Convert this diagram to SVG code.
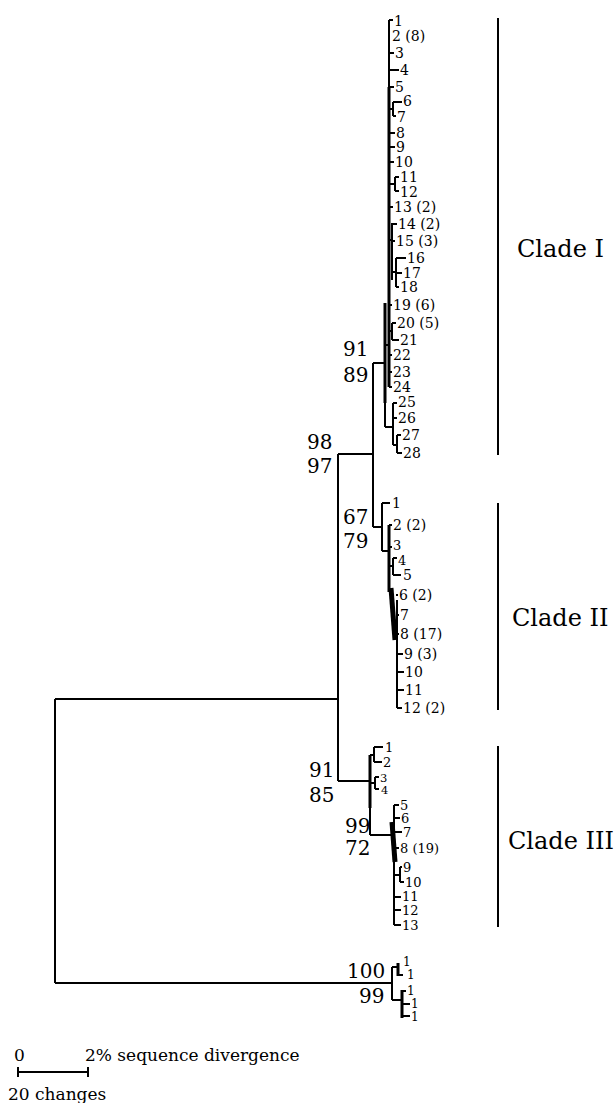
<svg xmlns="http://www.w3.org/2000/svg" width="616" height="1103" viewBox="0 0 616 1103">
<style>
text{font-family:"DejaVu Serif","Liberation Serif",serif;fill:#000}
.t{font-size:14px}
.t3{font-size:13px}
.sm{font-size:11.5px}
.o{font-size:12px}
.s{font-size:20px}
.c{font-size:24px}
.k{font-size:17px}
.l{stroke:#000;stroke-width:2;fill:none}
.b{stroke:#000;stroke-width:3;fill:none}
.w{stroke:#000;stroke-width:5;fill:none}
.bar{stroke:#000;stroke-width:2}
</style>
<rect width="616" height="1103" fill="#fff"/>
<g id="connectors">
<path class="l" d="M55 699V983M55 699H338M338 454V781M338 454H373M373 363V527M373 363H385M55 983H392"/>
<path class="l" d="M385 345V427M385 345H389M385 427H393M393 403V445M393 403H397M393 418H397M393 445H397M397 435V453M397 435H401M397 453H402"/>
<path class="b" d="M385 303V403"/>
<path class="l" d="M389 20V87M389 20H393M389 53H394M389 70H399M389 87H394"/>
<path class="b" d="M389 87V387"/>
<path class="l" d="M389 109H393M393 102V116M393 102H402M393 116H396M389 133H395M389 147H395M389 162H394M389 184H395M395 177V191M395 177H399M395 191H399M389 207H393"/>
<path class="l" d="M389 240H392M392 223V280M392 224H397M392 241H395M392 272H396M396 258V287M396 258H406M396 273H402M396 287H399"/>
<path class="l" d="M389 305H392M389 331H392M392 323V340M392 323H396M392 340H399M389 355H392M389 372H392M389 387H392"/>
<path class="l" d="M373 527H382M382 503V551M382 503H390M382 551H389M389 525H392M389 547H392M389 566H393M393 558V575M393 558H397M393 575H401"/>
<path class="b" d="M389 525V592"/>
<path class="w" d="M391 588L395 640"/>
<path class="l" d="M397 600V708M396 595H398M396 615H399M396 634H399M397 654H403M397 672H404M397 690H404M397 708H402"/>
<path class="l" d="M338 781H370M370 755H374M374 747V762M374 747H383M374 762H382M370 783H375M375 777V789M375 777H379M375 789H379M370 808V835M370 835H394"/>
<path class="b" d="M370 755V808"/>
<path class="l" d="M394 805V925M394 805H399M394 818H400M394 832H402M394 848H399M394 875H400M400 867V882M400 867H402M400 882H404M394 897H401M394 910H401M394 925H401"/>
<path class="w" d="M392 822L395 862"/>
<path class="l" d="M392 967V1000M392 967H398M398 975H403M392 1000H402M402 991H406M402 1004H410M402 1016H410"/>
<path class="b" d="M398 963V976M402 990V1018"/>
</g>
<g id="clade-bars">
<line class="bar" x1="498" y1="18" x2="498" y2="455"/>
<line class="bar" x1="498" y1="503" x2="498" y2="710"/>
<line class="bar" x1="498" y1="746" x2="498" y2="927"/>
</g>
<g id="clade-I-tips" class="t">
<text x="394" y="26">1</text>
<text x="392" y="41">2 (8)</text>
<text x="395" y="58">3</text>
<text x="400" y="75">4</text>
<text x="395" y="92">5</text>
<text x="403" y="106">6</text>
<text x="397" y="122">7</text>
<text x="396" y="138">8</text>
<text x="396" y="152">9</text>
<text x="395" y="167">10</text>
<text x="400" y="182">11</text>
<text x="400" y="197">12</text>
<text x="394" y="212">13 (2)</text>
<text x="398" y="229">14 (2)</text>
<text x="396" y="246">15 (3)</text>
<text x="407" y="263">16</text>
<text x="403" y="278">17</text>
<text x="400" y="292">18</text>
<text x="393" y="310">19 (6)</text>
<text x="397" y="328">20 (5)</text>
<text x="400" y="345">21</text>
<text x="393" y="360">22</text>
<text x="393" y="377">23</text>
<text x="393" y="392">24</text>
<text x="398" y="407">25</text>
<text x="398" y="423">26</text>
<text x="402" y="440">27</text>
<text x="403" y="458">28</text>
</g>
<g id="clade-II-tips" class="t">
<text x="392" y="508">1</text>
<text x="393" y="530">2 (2)</text>
<text class="t3" x="393" y="550">3</text>
<text class="t3" x="398" y="565">4</text>
<text x="403" y="580">5</text>
<text x="399" y="600">6 (2)</text>
<text x="400" y="620">7</text>
<text x="400" y="639">8 (17)</text>
<text x="404" y="659">9 (3)</text>
<text x="405" y="677">10</text>
<text x="405" y="695">11</text>
<text x="403" y="713">12 (2)</text>
</g>
<g id="clade-III-tips" class="t3">
<text x="385" y="752">1</text>
<text x="383" y="767">2</text>
<text class="sm" x="380" y="782">3</text>
<text class="sm" x="381" y="794">4</text>
<text x="400" y="810">5</text>
<text x="401" y="823">6</text>
<text x="403" y="837">7</text>
<text x="400" y="853">8 (19)</text>
<text x="403" y="872">9</text>
<text x="405" y="887">10</text>
<text x="402" y="901">11</text>
<text x="402" y="915">12</text>
<text x="402" y="930">13</text>
</g>
<g id="outgroup-tips" class="o">
<text x="403" y="966">1</text>
<text x="407" y="979">1</text>
<text x="407" y="995">1</text>
<text x="411" y="1008">1</text>
<text x="411" y="1021">1</text>
</g>
<g id="support" class="s">
<text x="343" y="356">91</text>
<text x="343" y="382">89</text>
<text x="307" y="449">98</text>
<text x="307" y="473">97</text>
<text x="343" y="524">67</text>
<text x="343" y="548">79</text>
<text x="309" y="777">91</text>
<text x="309" y="802">85</text>
<text x="345" y="833">99</text>
<text x="345" y="855">72</text>
<text x="347" y="978">100</text>
<text x="359" y="1003">99</text>
</g>
<g id="clade-labels" class="c">
<text x="517" y="257">Clade I</text>
<text x="512" y="626">Clade II</text>
<text x="508" y="849">Clade III</text>
</g>
<g id="scale-bar">
<path class="l" d="M18 1072H88M18 1067V1077M88 1067V1077"/>
<text class="k" x="14" y="1061">0</text>
<text class="k" x="85" y="1061">2% sequence divergence</text>
<text class="k" x="8" y="1100">20 changes</text>
</g>
</svg>
